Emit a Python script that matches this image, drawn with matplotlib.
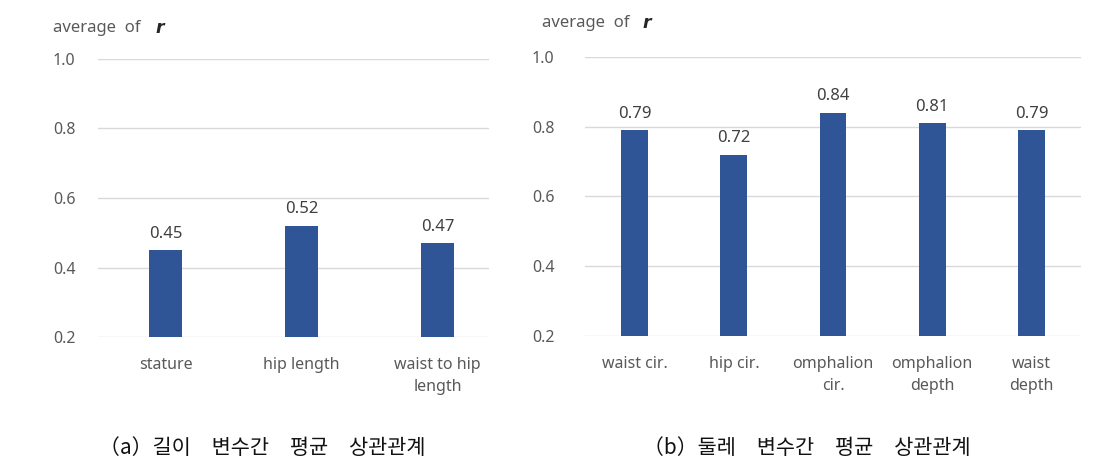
import matplotlib
matplotlib.use('Agg')
import matplotlib.pyplot as plt

plt.rcParams['font.family'] = ['Noto Sans', 'Noto Sans CJK KR', 'DejaVu Sans']

# data
len_names = ['stature', 'hip length', 'waist to hip\nlength']
len_vals = [0.45, 0.52, 0.47]
cir_names = ['waist cir.', 'hip cir.', 'omphalion\ncir.', 'omphalion\ndepth', 'waist\ndepth']
cir_vals = [0.79, 0.72, 0.84, 0.81, 0.79]
y_ticks = [0.2, 0.4, 0.6, 0.8, 1.0]
cap_a = '（a）길이　변수간　평균　상관관계'
cap_b = '（b）둘레　변수간　평균　상관관계'

bar_col = '#2F5597'
txt_col = '#595959'
grid_col = '#D9D9D9'

fig = plt.figure(figsize=(11.18, 4.66), dpi=100, facecolor='white')
ax1 = fig.add_axes([0.0874, 0.2768, 0.350, 0.5966])
ax2 = fig.add_axes([0.5233, 0.2790, 0.4436, 0.5987])


def style(ax, names, vals, width, xmax, pad):
    x = range(len(vals))
    ax.bar(x, vals, width=width, color=bar_col, zorder=3)
    for i, v in zip(x, vals):
        ax.annotate('%.2f' % v, (i, v), xytext=(0, 6), textcoords='offset points',
                    ha='center', va='bottom', fontsize=12, color='#404040')
    ax.set_ylim(0.2, 1.0)
    ax.set_xlim(-0.5, xmax)
    ax.set_yticks(y_ticks)
    ax.set_yticklabels(['%.1f' % t for t in y_ticks])
    ax.set_xticks(list(x))
    ax.set_xticklabels(names, linespacing=1.5)
    ax.grid(axis='y', color=grid_col, linewidth=1, zorder=0)
    for s in ax.spines.values():
        s.set_visible(False)
    ax.tick_params(axis='both', length=0, labelsize=11.5, labelcolor=txt_col)
    ax.tick_params(axis='y', pad=pad)
    ax.tick_params(axis='x', pad=14.5)


style(ax1, len_names, len_vals, 0.243, 2.38, 16)
style(ax2, cir_names, cir_vals, 0.27, 4.5, 22)

# y axis titles
fig.text(53 / 1118, 1 - 28 / 466, 'average  of', fontsize=12, color=txt_col, va='center')
fig.text(155 / 1118, 1 - 28 / 466, 'r', fontsize=12.5, color='#262626', va='center',
         style='italic', weight='bold', family=['DejaVu Sans'])
fig.text(542 / 1118, 1 - 23 / 466, 'average  of', fontsize=12, color=txt_col, va='center')
fig.text(642 / 1118, 1 - 23 / 466, 'r', fontsize=12.5, color='#262626', va='center',
         style='italic', weight='bold', family=['DejaVu Sans'])

# captions
fig.text(262 / 1118, 1 - 448 / 466, cap_a, fontsize=15, ha='center', va='center',
         family=['Noto Sans CJK KR'], color='#111111')
fig.text(807 / 1118, 1 - 448 / 466, cap_b, fontsize=15, ha='center', va='center',
         family=['Noto Sans CJK KR'], color='#111111')

fig.savefig('out.png', dpi=100)
